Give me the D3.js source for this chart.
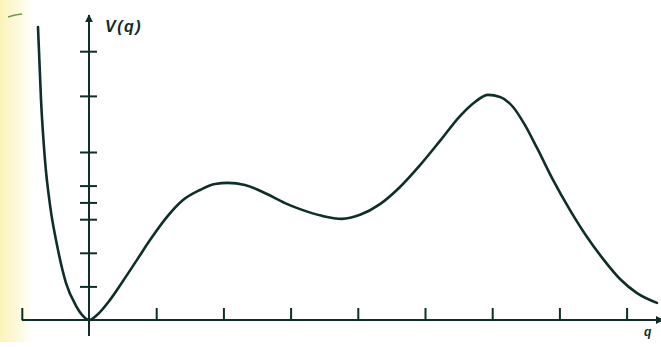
<!DOCTYPE html>
<html>
<head>
<meta charset="utf-8">
<script src="https://cdn.jsdelivr.net/npm/d3@7"></script>
<style>
  html, body { margin: 0; padding: 0; background: #fff; }
  svg { display: block; }
</style>
</head>
<body>
<div id="chart"></div>
<script>
// potential curve V(q) (q in tick units, V in units of the lowest tick)
const qValues = [-0.759, -0.714, -0.655, -0.580, -0.476, -0.342, -0.193, -0.104, 0,
  0.119, 0.313, 0.506, 0.714, 0.908, 1.161, 1.399, 1.652, 1.875, 2.068, 2.321, 2.649, 2.917,
  3.140, 3.467, 3.765, 4.033, 4.330, 4.628, 4.926, 5.223, 5.521, 5.744, 5.938, 6.116, 6.310,
  6.488, 6.667, 6.905, 7.158, 7.411, 7.649, 7.902, 8.155, 8.452];
const vValues = [8.72, 6.55, 4.76, 3.42, 2.23, 1.10, 0.42, 0.15, 0,
  0.15, 0.60, 1.16, 1.79, 2.38, 3.07, 3.57, 3.87, 4.05, 4.08, 4.02, 3.75, 3.48,
  3.30, 3.10, 3.01, 3.13, 3.45, 3.96, 4.61, 5.33, 6.07, 6.49, 6.70, 6.64, 6.34,
  5.80, 5.12, 4.17, 3.27, 2.47, 1.82, 1.22, 0.80, 0.51];
const qTicks = [-1, 1, 2, 3, 4, 5, 6, 7, 8];
const vTicks = [1, 2, 3, 3.5, 4, 5, 6.67, 8];

const W = 661, H = 347;
const ink = "#0f2d29";

const svg = d3.select("#chart").append("svg").attr("width", W).attr("height", H);

// yellowish scan edge on the left
const grad = svg.append("defs").append("linearGradient").attr("id", "edge");
grad.append("stop").attr("offset", "0%").attr("stop-color", "#fbf3b8");
grad.append("stop").attr("offset", "100%").attr("stop-color", "#ffffff");
svg.append("rect").attr("width", W).attr("height", H).attr("fill", "#fff");
svg.append("rect").attr("x", 0).attr("y", 0).attr("width", 34).attr("height", 342).attr("fill", "url(#edge)");
svg.append("path").attr("d", "M8,17 L15,15 L22,14").attr("stroke", "#6f9a45").attr("stroke-width", 1.5).attr("fill", "none");

const x = d3.scaleLinear().domain([0, 8]).range([89, 626.6]);
const y = d3.scaleLinear().domain([0, 8]).range([320, 51.2]);

const marker = svg.select("defs").append("marker").attr("id", "arrow")
  .attr("viewBox", "0 0 10 10").attr("refX", 9).attr("refY", 5)
  .attr("markerWidth", 4).attr("markerHeight", 4).attr("orient", "auto");
marker.append("path").attr("d", "M0,0 L10,5 L0,10 z").attr("fill", ink);

// q axis: line + upward ticks
svg.append("line").attr("x1", x(-1)).attr("x2", W + 2).attr("y1", y(0)).attr("y2", y(0))
  .attr("stroke", ink).attr("stroke-width", 2).attr("marker-end", "url(#arrow)");
const gx = svg.append("g").attr("transform", "translate(0," + y(0) + ")")
  .call(d3.axisBottom(x).tickValues(qTicks).tickSize(-12).tickSizeOuter(0).tickFormat(""));
gx.select(".domain").remove();
gx.selectAll(".tick line").attr("stroke", ink).attr("stroke-width", 2);

// V axis: line with arrow + crossing ticks
svg.append("line").attr("x1", x(0)).attr("x2", x(0)).attr("y1", 336).attr("y2", 15)
  .attr("stroke", ink).attr("stroke-width", 2).attr("marker-end", "url(#arrow)");
const gy = svg.append("g").attr("transform", "translate(" + x(0) + ",0)")
  .call(d3.axisLeft(y).tickValues(vTicks).tickSizeOuter(0).tickFormat(""));
gy.select(".domain").remove();
gy.selectAll(".tick line").attr("x1", -9).attr("x2", 8).attr("stroke", ink).attr("stroke-width", 2);

// the curve
const pts = qValues.map((q, i) => [q, vValues[i]]);
const line = d3.line().x(d => x(d[0])).y(d => y(d[1])).curve(d3.curveMonotoneX);
svg.append("path").datum(pts).attr("d", line).attr("fill", "none")
  .attr("stroke", ink).attr("stroke-width", 2.6).attr("stroke-linecap", "round")
  .attr("stroke-linejoin", "round");

// labels
svg.append("text").attr("x", 105).attr("y", 32).text("V(q)")
  .attr("font-family", "Liberation Sans, Arial, sans-serif").attr("font-weight", "bold")
  .attr("font-style", "italic").attr("font-size", 16).attr("letter-spacing", 1.5).attr("fill", ink);
svg.append("text").attr("x", 644).attr("y", 336).text("q")
  .attr("font-family", "Liberation Sans, Arial, sans-serif").attr("font-weight", "bold")
  .attr("font-style", "italic").attr("font-size", 12).attr("fill", ink);
</script>
</body>
</html>
